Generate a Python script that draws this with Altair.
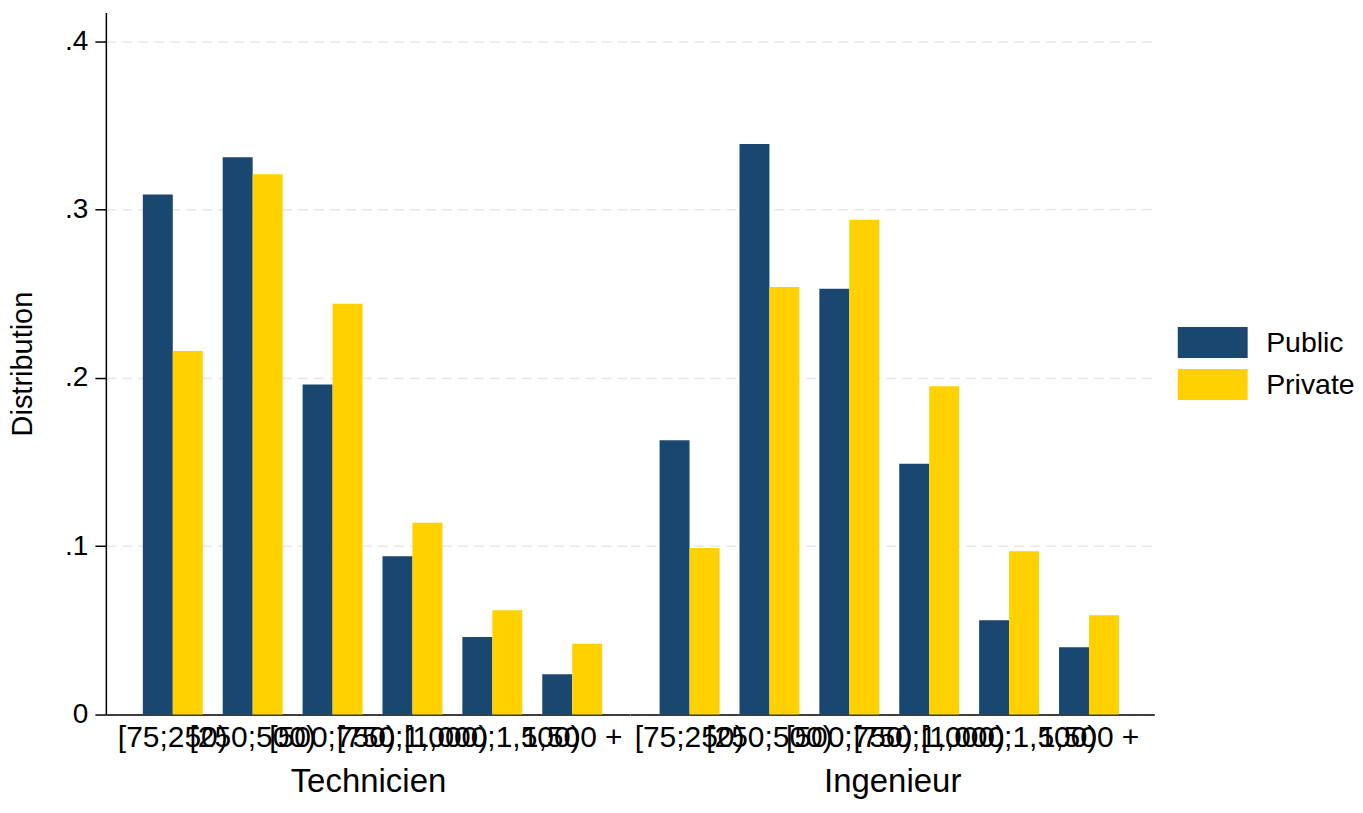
import altair as alt
import pandas as pd

bins = ["[75;250)", "[250;500)", "[500;750)", "[750;1,000)", "[1,000;1,500)", "1,500 +"]
groups = ["Technicien", "Ingenieur"]
sectors = ["Public", "Private"]
tech_public = [0.309, 0.331, 0.196, 0.094, 0.046, 0.024]
tech_private = [0.216, 0.321, 0.244, 0.114, 0.062, 0.042]
ing_public = [0.163, 0.339, 0.253, 0.149, 0.056, 0.040]
ing_private = [0.099, 0.254, 0.294, 0.195, 0.097, 0.059]
colors = ["#1a476f", "#ffd100"]

series = {
    ("Technicien", "Public"): tech_public,
    ("Technicien", "Private"): tech_private,
    ("Ingenieur", "Public"): ing_public,
    ("Ingenieur", "Private"): ing_private,
}
rows = []
for (g, s), vals in series.items():
    for b, v in zip(bins, vals):
        rows.append({"group": g, "bin": b, "sector": s, "value": v})
df = pd.DataFrame(rows)

FONT = "Liberation Sans"
W, H = 525, 703


def panel(group, show_y, align):
    if show_y:
        yaxis = alt.Axis(
            values=[0, 0.1, 0.2, 0.3, 0.4],
            labelExpr="datum.value == 0 ? '0' : replace(format(datum.value, '.1f'), '0.', '.')",
            labelFontSize=28, labelColor="black", labelFont=FONT, labelPadding=7,
            tickSize=11, tickColor="black", tickWidth=1.5,
            domainColor="black", domainWidth=1.5,
            grid=True, gridColor="#e8e8e8", gridDash=[10, 6], gridWidth=1.5,
            title="Distribution", titleFontSize=29, titleFont=FONT,
            titleFontWeight="normal", titleColor="black", titlePadding=27,
        )
    else:
        yaxis = alt.Axis(
            values=[0, 0.1, 0.2, 0.3, 0.4], labels=False, ticks=False, domain=False,
            grid=True, gridColor="#e8e8e8", gridDash=[10, 6], gridWidth=1.5, title=None,
        )
    return (
        alt.Chart(df[df["group"] == group])
        .mark_bar()
        .encode(
            x=alt.X(
                "bin:N", sort=bins,
                scale=alt.Scale(paddingInner=0.25, paddingOuter=0.406, align=align),
                axis=alt.Axis(
                    labelAngle=0, labelOverlap=False, labelBound=False, labelFlush=False,
                    labelFontSize=30, labelFont=FONT, labelColor="black", labelPadding=8,
                    ticks=False, domainColor="black", domainWidth=1.5,
                    title=group, titleFontSize=33, titleFont=FONT,
                    titleFontWeight="normal", titleColor="black", titlePadding=13,
                ),
            ),
            xOffset=alt.XOffset("sector:N", sort=sectors, scale=alt.Scale(paddingInner=0, paddingOuter=0)),
            y=alt.Y("value:Q", scale=alt.Scale(domain=[0, 0.417], nice=False, zero=True), axis=yaxis),
            color=alt.Color(
                "sector:N", sort=sectors,
                scale=alt.Scale(domain=sectors, range=colors),
                legend=alt.Legend(
                    title=None, orient="none", legendX=1091, legendY=313,
                    symbolType="M-2,-0.886H2V0.886H-2Z", symbolSize=1225,
                    symbolStrokeWidth=0, symbolOpacity=1,
                    labelFontSize=28.5, labelFont=FONT, labelColor="black",
                    labelOffset=36, rowPadding=8,
                ),
            ),
        )
        .properties(width=W, height=H)
    )


chart = (
    alt.hconcat(panel("Technicien", True, 0.57), panel("Ingenieur", False, 0.455), spacing=0)
    .resolve_scale(y="shared", x="independent")
    .properties(padding={"left": 0, "top": 4, "right": 0, "bottom": 0}, background="white")
    .configure_view(strokeWidth=0, stroke=None)
)

chart.save("out.html", embed_options={"renderer": "svg", "actions": False})
